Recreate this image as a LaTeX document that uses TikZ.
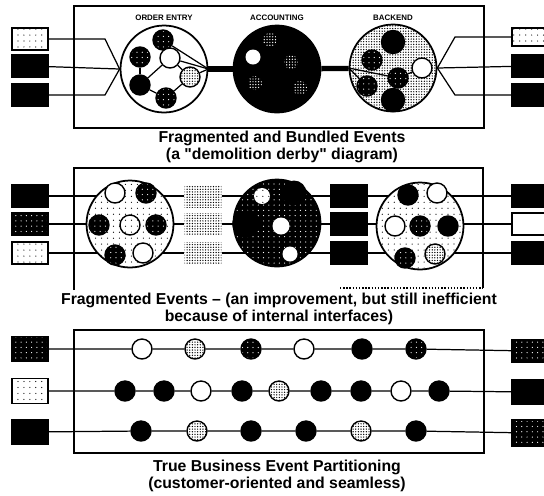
\documentclass[tikz,border=0pt]{standalone}
\usepackage{fontspec}
\setmainfont{Liberation Sans}
\usetikzlibrary{patterns.meta}

\pgfdeclarelayer{bg}
\pgfsetlayers{bg,main}

\tikzset{
  % filling styles
  blk/.style={fill=black},
  wht/.style={fill=white},
  drk/.style={preaction={fill=black},pattern={Dots[distance=3pt,radius=0.35pt]},pattern color=white},
  gry/.style={preaction={fill=white},pattern={Dots[distance=1.5pt,radius=0.4pt]},pattern color=black},
  lit/.style={preaction={fill=white},pattern={Dots[distance=3.4pt,radius=0.35pt]},pattern color=black},
  spk/.style={circle,inner sep=0pt,minimum size=0.28cm,pattern={Dots[distance=1.6pt,radius=0.4pt]},pattern color=white},
  % shapes
  ev/.style={circle,draw,line width=0.8pt,inner sep=0pt,minimum size=0.4cm},
  hub/.style={circle,draw,line width=1pt,inner sep=0pt,minimum size=1.74cm},
  port/.style={rectangle,draw,line width=0.8pt,inner sep=0pt,minimum width=0.72cm,minimum height=0.44cm},
  flow/.style={line width=0.7pt},
  bar/.style={line width=3pt},
  frame/.style={line width=0.8pt},
  tag/.style={font=\bfseries\fontsize{4.5}{5}\selectfont,inner sep=0pt},
  captxt/.style={font=\bfseries\fontsize{9}{10}\selectfont,inner sep=0pt}
}

\begin{document}
\begin{tikzpicture}[x=0.02cm,y=-0.02cm]
\useasboundingbox (0,0) rectangle (544,495);

% ---------- bundled events ----------
\draw[frame] (74,6) rectangle (484,128);
\node[port,lit] (pa1) at (30,39) {};
\node[port,blk] (pa2) at (30,66) {};
\node[port,blk] (pa3) at (30,95) {};
\node[port,lit,minimum height=0.36cm] (pz1) at (530,37) {};
\node[port,blk] (pz2) at (530,66) {};
\node[port,blk] (pz3) at (530,95) {};

\node[hub,wht] (oe) at (164,69) {};
\node[hub,blk] (ac) at (277,69) {};
\node[hub,gry] (bo) at (393,68) {};
\node[tag] at (164,18) {ORDER ENTRY};
\node[tag] at (277,18) {ACCOUNTING};
\node[tag] at (393,18) {BACKEND};

\draw[bar] (oe) -- (ac);
\draw[bar] (ac) -- (bo);

% fan in / fan out
\coordinate (kl1) at (105,39);
\coordinate (kl3) at (105,95);
\coordinate (kr1) at (455,37);
\coordinate (kr3) at (455,95);
\draw[flow] (pa1) -- (kl1) -- (oe.west);
\draw[flow] (pa2) -- (oe.west);
\draw[flow] (pa3) -- (kl3) -- (oe.west);
\draw[flow] (bo.east) -- (kr1) -- (pz1);
\draw[flow] (bo.east) -- (pz2);
\draw[flow] (bo.east) -- (kr3) -- (pz3);

% order entry
\node[ev,drk] (o1) at (163,40) {};
\node[ev,drk] (o2) at (140,57) {};
\node[ev,wht] (o3) at (170,58) {};
\node[ev,gry] (o4) at (190,77) {};
\node[ev,blk] (o5) at (140,85) {};
\node[ev,drk] (o6) at (166,98) {};
\draw[flow] (o1) -- (oe.east);
\draw[flow] (o3) -- (oe.east);
\draw[flow] (o4) -- (oe.east);
\draw[flow] (o3) -- (o4) -- (o6) -- (o5) -- (o3);
\draw[flow] (o2) -- (o5);

% accounting
\node[ev,wht,draw=none,minimum size=0.3cm] (a1) at (253,57) {};
\node[spk] at (270,40) {};
\node[spk] at (291,62) {};
\node[spk] at (255,83) {};
\node[spk] at (300,88) {};

% backend
\node[ev,blk,minimum size=0.46cm] (b1) at (393,42) {};
\node[ev,drk] (b2) at (372,60) {};
\node[ev,wht] (b3) at (422,68) {};
\node[ev,drk] (b4) at (398,78) {};
\node[ev,drk] (b5) at (367,86) {};
\node[ev,blk,minimum size=0.46cm] (b6) at (393,100) {};
\draw[flow] (bo.west) -- (b4) -- (b3);
\draw[flow] (bo.west) -- (b5);

\node[captxt] at (282,138) {Fragmented and Bundled Events};
\node[captxt] at (282,155) {(a \textquotedbl demolition derby\textquotedbl\ diagram)};

% ---------- fragmented events ----------
\draw[frame] (74,290) -- (74,168) -- (483,168) -- (483,288);
\draw[frame,densely dotted] (340,288) -- (483,288);
\node[port,blk] (qa1) at (30,196) {};
\node[port,drk] (qa2) at (30,224) {};
\node[port,lit] (qa3) at (30,253) {};
\node[port,blk] (qz1) at (530,196) {};
\node[port,wht] (qz2) at (530,224) {};
\node[port,blk] (qz3) at (530,253) {};

\node[hub,lit] (hA) at (130,224) {};
\node[hub,drk] (hB) at (277,223) {};
\node[hub,lit] (hC) at (420,226) {};

\node[port,gry,draw=none,minimum width=0.74cm] (mA1) at (203,196) {};
\node[port,gry,draw=none,minimum width=0.74cm] (mA2) at (203,224) {};
\node[port,gry,draw=none,minimum width=0.74cm] (mA3) at (203,253) {};
\node[port,blk] (mB1) at (349,196) {};
\node[port,blk] (mB2) at (349,224) {};
\node[port,blk] (mB3) at (349,253) {};

\begin{pgfonlayer}{bg}
\draw[flow] (qa1) -- (mA1) -- (mB1) -- (qz1);
\draw[flow] (qa2) -- (mA2) -- (mB2) -- (qz2);
\draw[flow] (qa3) -- (mA3) -- (mB3) -- (qz3);
\end{pgfonlayer}

\node[ev,wht] at (115,193) {};
\node[ev,drk] at (146,193) {};
\node[ev,drk] at (99,225) {};
\node[ev,lit] at (130,225) {};
\node[ev,drk] at (156,225) {};
\node[ev,drk] at (115,255) {};
\node[ev,wht] at (143,253) {};

\node[ev,lit,draw=none,minimum size=0.32cm] at (262,196) {};
\node[ev,blk,draw=none,minimum size=0.5cm] at (294,193) {};
\node[ev,blk,draw=none,minimum size=0.55cm] at (246,224) {};
\node[ev,wht,draw=none,minimum size=0.34cm] at (281,226) {};
\node[ev,wht,draw=none,minimum size=0.3cm] at (290,254) {};

\node[ev,blk] at (408,195) {};
\node[ev,wht] at (437,193) {};
\node[ev,wht] at (395,226) {};
\node[ev,drk] at (420,226) {};
\node[ev,blk] at (448,226) {};
\node[ev,drk] at (405,258) {};
\node[ev,gry] at (435,254) {};

\node[captxt] at (279,300) {Fragmented Events -- (an improvement, but still inefficient};
\node[captxt] at (279,317) {because of internal interfaces)};

% ---------- true business events ----------
\draw[frame] (74,330) rectangle (484,453);
\node[port,drk,minimum height=0.5cm] (ra1) at (30,349) {};
\node[port,lit,minimum height=0.5cm] (ra2) at (30,391) {};
\node[port,blk,minimum height=0.5cm] (ra3) at (30,432) {};
\node[port,drk] (rz1) at (530,351) {};
\node[port,blk,minimum height=0.48cm] (rz2) at (530,392) {};
\node[port,drk,minimum height=0.52cm] (rz3) at (530,433) {};

\node[ev,wht] (e11) at (142,349) {};
\node[ev,gry] (e12) at (195,349) {};
\node[ev,drk] (e13) at (251,349) {};
\node[ev,wht] (e14) at (304,349) {};
\node[ev,blk] (e15) at (362,349) {};
\node[ev,drk] (e16) at (416,349) {};

\node[ev,blk] (e21) at (125,391) {};
\node[ev,blk] (e22) at (164,391) {};
\node[ev,wht] (e23) at (201,391) {};
\node[ev,blk] (e24) at (242,391) {};
\node[ev,gry] (e25) at (279,391) {};
\node[ev,blk] (e26) at (321,391) {};
\node[ev,blk] (e27) at (361,391) {};
\node[ev,wht] (e28) at (401,391) {};
\node[ev,blk] (e29) at (439,391) {};

\node[ev,blk] (e31) at (141,431) {};
\node[ev,gry] (e32) at (197,431) {};
\node[ev,blk] (e33) at (251,431) {};
\node[ev,blk] (e34) at (306,431) {};
\node[ev,gry] (e35) at (361,431) {};
\node[ev,blk] (e36) at (416,431) {};

\draw[flow] (ra1) -- (e11) -- (e12) -- (e13) -- (e14) -- (e15) -- (e16) -- (rz1);
\draw[flow] (ra2) -- (e21) -- (e22) -- (e23) -- (e24) -- (e25) -- (e26) -- (e27) -- (e28) -- (e29) -- (rz2);
\draw[flow] (ra3) -- (e31) -- (e32) -- (e33) -- (e34) -- (e35) -- (e36) -- (rz3);

\node[captxt] at (277,467) {True Business Event Partitioning};
\node[captxt] at (277,484) {(customer-oriented and seamless)};
\end{tikzpicture}
\end{document}
